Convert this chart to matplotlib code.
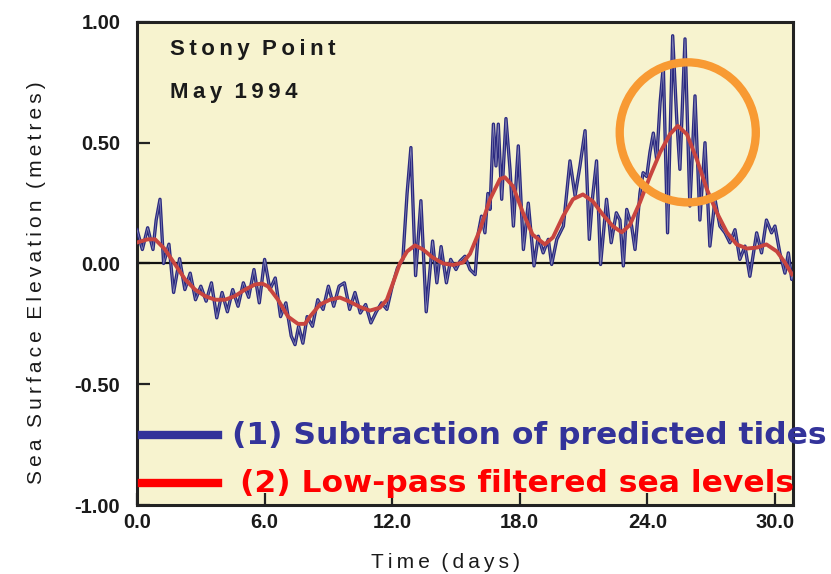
import matplotlib
matplotlib.use('Agg')
import matplotlib.pyplot as plt
import matplotlib.ticker as mticker
from matplotlib.patches import Ellipse
from matplotlib.lines import Line2D

# ── data ──────────────────────────────────────────────────────────────────────
resid_t = [0.0, 0.25, 0.5, 0.75, 0.9, 1.08, 1.25, 1.5, 1.72, 2.0, 2.25, 2.5, 2.75,
           3.0, 3.25, 3.5, 3.75, 4.0, 4.25, 4.5, 4.75, 5.0, 5.25, 5.5, 5.75, 6.0,
           6.25, 6.5, 6.75, 7.0, 7.25, 7.43, 7.6, 7.8, 8.0, 8.25, 8.5, 8.75, 9.0,
           9.25, 9.5, 9.75, 10.0, 10.25, 10.5, 10.75, 11.0, 11.25, 11.5, 11.75,
           12.0, 12.25, 12.5, 12.7, 12.88, 13.1, 13.35, 13.6, 13.9, 14.1, 14.3,
           14.55, 14.75, 15.0, 15.19, 15.42, 15.66, 15.9, 16.05, 16.2, 16.36, 16.5,
           16.6, 16.76, 16.88, 16.99, 17.15, 17.35, 17.54, 17.7, 17.93, 18.17,
           18.4, 18.67, 18.87, 19.1, 19.34, 19.5, 19.74, 20.05, 20.36, 20.6,
           20.83, 21.07, 21.27, 21.43, 21.61, 21.8, 22.08, 22.3, 22.54, 22.71,
           22.87, 23.03, 23.26, 23.42, 23.65, 23.8, 23.97, 24.12, 24.28, 24.44,
           24.6, 24.75, 24.95, 25.19, 25.38, 25.53, 25.77, 26.0, 26.24, 26.47,
           26.71, 26.94, 27.18, 27.41, 27.65, 27.88, 28.12, 28.35, 28.59, 28.82,
           29.14, 29.37, 29.6, 29.84, 30.0, 30.23, 30.47, 30.63, 30.79, 30.85]
resid_v = [0.14, 0.058, 0.148, 0.058, 0.18, 0.266, 0.0, 0.08, -0.12, 0.02, -0.108,
           -0.04, -0.15, -0.094, -0.156, -0.08, -0.225, -0.12, -0.2, -0.108, -0.177,
           -0.08, -0.14, -0.025, -0.163, 0.017, -0.108, -0.06, -0.22, -0.163, -0.3,
           -0.336, -0.26, -0.33, -0.22, -0.26, -0.15, -0.19, -0.094, -0.177, -0.094,
           -0.08, -0.19, -0.12, -0.205, -0.17, -0.246, -0.2, -0.163, -0.19, -0.094,
           -0.018, 0.017, 0.29, 0.48, -0.05, 0.26, -0.2, 0.093, -0.08, 0.07, -0.08,
           0.017, -0.025, 0.01, 0.03, -0.025, -0.046, 0.127, 0.196, 0.127, 0.29,
           0.224, 0.577, 0.404, 0.577, 0.266, 0.6, 0.39, 0.155, 0.487, 0.058, 0.25,
           -0.01, 0.113, 0.044, 0.1, -0.004, 0.1, 0.155, 0.425, 0.28, 0.404, 0.55,
           0.1, 0.28, 0.425, -0.004, 0.266, 0.086, 0.21, 0.18, -0.01, 0.224, 0.155,
           0.058, 0.29, 0.376, 0.36, 0.46, 0.54, 0.43, 0.667, 0.82, 0.127, 0.943,
           0.6, 0.39, 0.93, 0.238, 0.694, 0.18, 0.5, 0.072, 0.266, 0.155, 0.127,
           0.086, 0.14, 0.017, 0.072, -0.053, 0.127, 0.044, 0.18, 0.127, 0.155,
           0.044, -0.04, 0.044, -0.066, -0.04]

lowpass_t = [0.0, 0.5, 0.85, 1.3, 1.8, 2.26, 2.73, 3.2, 3.67, 4.14, 4.6, 5.08, 5.55,
             5.88, 6.16, 6.63, 7.1, 7.57, 7.9, 8.13, 8.6, 9.07, 9.54, 10.0, 10.48,
             10.95, 11.42, 11.75, 12.04, 12.36, 12.7, 13.07, 13.45, 13.9, 14.4,
             14.86, 15.33, 15.66, 16.13, 16.6, 17.07, 17.3, 17.68, 18.15, 18.6,
             19.18, 19.56, 20.03, 20.5, 20.97, 21.44, 21.9, 22.38, 22.8, 23.18,
             23.65, 24.12, 24.6, 25.06, 25.43, 25.86, 26.33, 26.8, 27.27, 27.74,
             28.2, 28.68, 29.15, 29.6, 30.09, 30.47, 30.8]
lowpass_v = [0.087, 0.10, 0.10, 0.06, -0.005, -0.066, -0.108, -0.135, -0.15, -0.15,
             -0.135, -0.108, -0.087, -0.083, -0.095, -0.15, -0.22, -0.25, -0.25,
             -0.22, -0.17, -0.15, -0.141, -0.158, -0.18, -0.195, -0.183, -0.15,
             -0.08, 0.0, 0.05, 0.075, 0.058, 0.025, 0.0, -0.006, 0.004, 0.04, 0.14,
             0.266, 0.35, 0.357, 0.32, 0.21, 0.12, 0.079, 0.108, 0.195, 0.266, 0.286,
             0.257, 0.203, 0.154, 0.129, 0.16, 0.253, 0.36, 0.46, 0.535, 0.57, 0.535,
             0.43, 0.307, 0.21, 0.129, 0.079, 0.062, 0.066, 0.079, 0.05, 0.004, -0.045]

x_ticks = [0, 6, 12, 18, 24, 30]
y_ticks = [-1.0, -0.5, 0.0, 0.5, 1.0]
legend_labels = ['(1) Subtraction of predicted tides', '(2) Low-pass filtered sea levels']

BLUE = '#2b2a80'
RED = '#c8453f'
BG = '#f7f3cf'
SANS = ['Liberation Sans', 'DejaVu Sans']
THIN = '\u2009'

def spaced(s):
    # letter-spaced look of the original labels
    return THIN.join(s).replace(THIN + ' ' + THIN, '  ')

# ── figure ────────────────────────────────────────────────────────────────────
fig = plt.figure(figsize=(8.31, 5.74), dpi=100)
ax = fig.add_axes([0.1649, 0.1202, 0.7894, 0.8415])
ax.set_facecolor(BG)

ax.axhline(0, color='#111111', lw=1.6, zorder=2)
ax.plot(resid_t, resid_v, color=BLUE, lw=2.4, zorder=3)
ax.plot(resid_t, resid_v, color='white', lw=0.5, alpha=0.45, zorder=3)
ax.plot(lowpass_t, lowpass_v, color=RED, lw=2.8, zorder=4)

# highlight circle around the storm peak
ax.add_patch(Ellipse((25.9, 0.543), 6.4, 0.58, fill=False,
                     edgecolor='#f89a33', lw=6, zorder=5))

ax.set_xlim(0, 30.85)
ax.set_ylim(-1, 1)
ax.set_xticks(x_ticks)
ax.set_yticks(y_ticks)
ax.xaxis.set_major_formatter(mticker.FormatStrFormatter('%.1f'))
ax.yaxis.set_major_formatter(mticker.FormatStrFormatter('%.2f'))
ax.tick_params(direction='in', length=9, width=1.6, color='#222222',
               labelsize=14.5, labelcolor='#1a1a1a', pad=6)
ax.tick_params(axis='y', pad=12)
for lbl in ax.get_xticklabels() + ax.get_yticklabels():
    lbl.set_family(SANS)
    lbl.set_fontweight('bold')
for sp in ax.spines.values():
    sp.set_linewidth(2.2)
    sp.set_color('#222222')

ax.set_xlabel(spaced('Time (days)'), family=SANS, fontsize=15, color='#1a1a1a')
ax.xaxis.set_label_coords(0.47, -0.12)
ax.xaxis.label.set_verticalalignment('center')
ax.set_ylabel(spaced('Sea Surface Elevation (metres)'), family=SANS,
              fontsize=15, color='#1a1a1a')
ax.yaxis.set_label_coords(-0.154, 0.46)
ax.yaxis.label.set_verticalalignment('center')

ax.text(0.05, 0.942, spaced('Stony Point'), transform=ax.transAxes,
        family=SANS, fontsize=16, fontweight='bold', va='center', color='#1a1a1a')
ax.text(0.05, 0.855, spaced('May 1994'), transform=ax.transAxes,
        family=SANS, fontsize=16, fontweight='bold', va='center', color='#1a1a1a')

# hand-drawn legend at the bottom
fig.add_artist(Line2D([0.171, 0.262], [0.242, 0.242], color='#33339a', lw=6,
                      transform=fig.transFigure))
fig.add_artist(Line2D([0.171, 0.262], [0.1585, 0.1585], color='#ff0000', lw=6,
                      transform=fig.transFigure))
fig.text(0.279, 0.242, legend_labels[0], color='#33339a', fontsize=22.6,
         fontweight='bold', va='center')
fig.text(0.289, 0.1585, legend_labels[1], color='#ff0000', fontsize=22.6,
         fontweight='bold', va='center')

fig.savefig('out.png', dpi=100)
